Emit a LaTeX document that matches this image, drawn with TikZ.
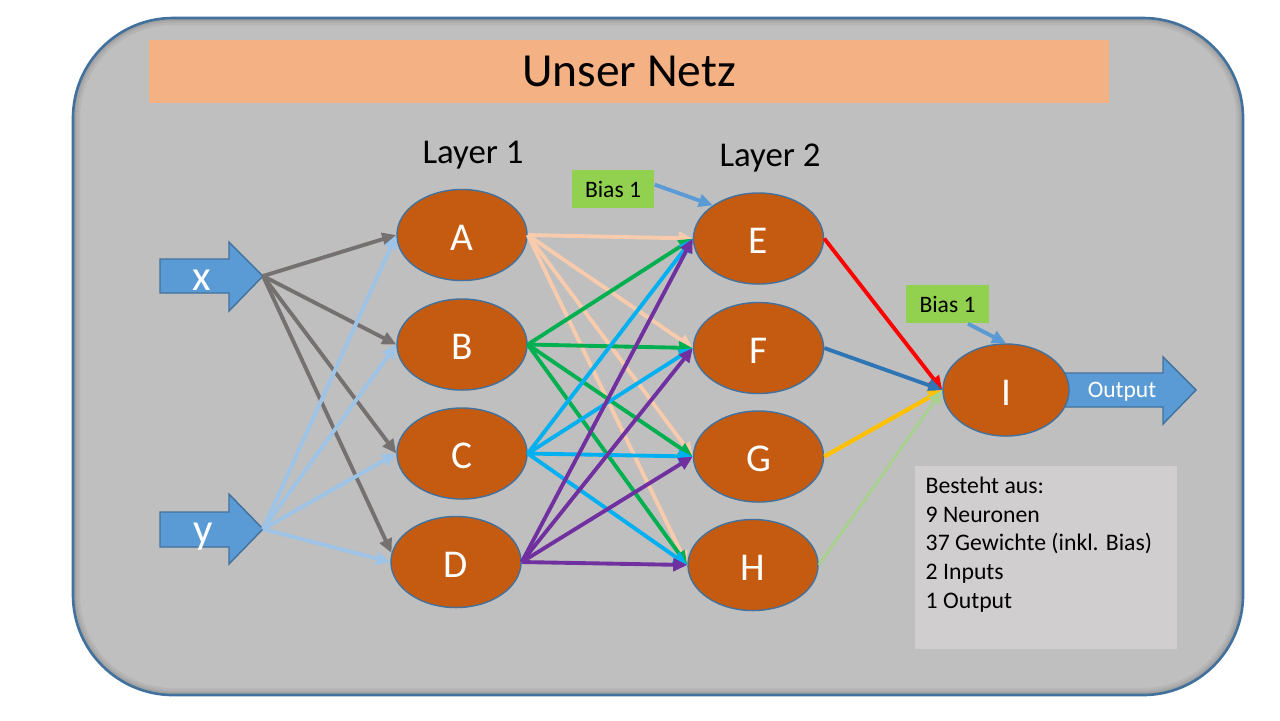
\documentclass[tikz,border=0pt]{standalone}
\usepackage{fontspec}
\setmainfont{Carlito}
\usetikzlibrary{arrows.meta,shapes.geometric}
\definecolor{panelfill}{HTML}{BFBFBF}
\definecolor{panelline}{HTML}{41719C}
\definecolor{titlefill}{HTML}{F4B183}
\definecolor{neuronfill}{HTML}{C55A11}
\definecolor{inarrow}{HTML}{5B9BD5}
\definecolor{cgray}{HTML}{767171}
\definecolor{clblue}{HTML}{9DC3E6}
\definecolor{cpeach}{HTML}{F8CBAD}
\definecolor{cgreen}{HTML}{00B050}
\definecolor{ccyan}{HTML}{00B0F0}
\definecolor{cpurple}{HTML}{7030A0}
\definecolor{cred}{HTML}{FF0000}
\definecolor{cblue}{HTML}{2E75B6}
\definecolor{cyellow}{HTML}{FFC000}
\definecolor{clgreen}{HTML}{A9D18E}
\definecolor{biasfill}{HTML}{92D050}
\definecolor{infofill}{HTML}{D0CECE}
\begin{document}
\begin{tikzpicture}[x=0.01cm,y=-0.01cm,
  neuron/.style={ellipse, fill=neuronfill, draw=panelline, line width=0.4pt,
    minimum width=1.3cm, minimum height=0.91cm, inner sep=0pt, text=white,
    text height=0.3cm, text depth=0pt,
    font=\fontsize{11.2}{13}\selectfont},
  wire/.style={line width=1.1pt, -{Triangle[length=4pt,width=3.6pt]}},
  biasbox/.style={rectangle, fill=biasfill, minimum width=0.82cm, minimum height=0.38cm,
    inner sep=0pt, font=\fontsize{6.7}{8}\selectfont},
  layerlabel/.style={font=\fontsize{9.9}{12}\selectfont, inner sep=0pt},
  arrowshape/.style={fill=inarrow, draw=panelline, line width=0.4pt},
  inlabel/.style={text=white, font=\fontsize{12.2}{14}\selectfont, inner sep=0pt, anchor=base}
]
\useasboundingbox (0,0) rectangle (1280,720);
\fill[white] (0,0) rectangle (1280,720);
% panel
\fill[panelfill, rounded corners=1cm] (73,18) rectangle (1243,695);
\begin{scope}
  \clip[rounded corners=1cm] (73,18) rectangle (1243,695);
  \foreach \w in {4pt,2.6pt,1.6pt}
    \draw[black, opacity=0.05, line width=\w, rounded corners=1cm] (73,18) rectangle (1243,695);
\end{scope}
\draw[draw=panelline, line width=0.75pt, rounded corners=1cm] (73,18) rectangle (1243,695);
% title
\node (title) [rectangle, fill=titlefill, minimum width=9.6cm, minimum height=0.63cm, inner sep=0pt,
  font=\fontsize{13.5}{16}\selectfont] at (629,71.5) {Unser Netz};
% layer labels
\node (L1) [layerlabel] at (473,155) {Layer 1};
\node (L2) [layerlabel] at (770,158) {Layer 2};
% input arrows
\draw[arrowshape] (160,259) -- (229,259) -- (229,242) -- (263,276) -- (229,311) -- (229,293) -- (160,293) -- cycle;
\coordinate (xt) at (263,276);
\node (xl) [inlabel] at (202,290) {x};
\draw[arrowshape] (160,512) -- (229,512) -- (229,494) -- (263,529) -- (229,564) -- (229,547) -- (160,547) -- cycle;
\coordinate (yt) at (263,529);
\node (yl) [inlabel] at (203,543) {y};
% output arrow
\draw[arrowshape] (1040,373) -- (1163,373) -- (1163,357) -- (1196,390) -- (1163,424) -- (1163,407) -- (1040,407) -- cycle;
% neurons
\node[neuron] (A) at (462,235) {A};
\node[neuron] (B) at (462,344.5) {B};
\node[neuron] (C) at (462,453.5) {C};
\node[neuron] (D) at (456,562) {D};
\node[neuron] (E) at (758.5,238.5) {E};
\node[neuron] (F) at (758.5,348) {F};
\node[neuron] (G) at (758.5,456.5) {G};
\node[neuron] (H) at (753,565) {H};
\node[neuron, minimum width=1.26cm, minimum height=0.92cm] (I) at (1006,390) {I};
\node (out) [text=white, font=\fontsize{6.7}{8}\selectfont, inner sep=0pt] at (1122,392) {Output};
% input edges
\foreach \n/\a in {A/west,B/west,C/west,D/172}
  \draw[wire, cgray] (xt) -- (\n.\a);
\foreach \n in {A,B,C,D}
  \draw[wire, clblue] (yt) -- (\n.west);
% layer 1 -> layer 2
\foreach \s/\c in {A/cpeach,B/cgreen,C/ccyan,D/cpurple}
  \foreach \t in {E,F,G,H}
    \draw[wire, \c] (\s.east) -- (\t.west);
% layer 2 -> output
\draw[wire, cred] (E.east) -- (I.west);
\draw[wire, cblue] (F.east) -- (I.west);
\draw[wire, cyellow, line width=1.2pt] (G.east) -- (I.west);
\draw[wire, clgreen, line width=0.8pt] (H.east) -- (I.west);
% bias
\node[biasbox] (b1) at (613,189) {Bias 1};
\node[biasbox] (b2) at (947.5,304) {Bias 1};
\draw[wire, inarrow] (b1.6) -- (E.144);
\draw[wire, inarrow] (b2.-44) -- (I.north);
% info box
\node (info) [rectangle, fill=infofill, anchor=north west, minimum width=2.62cm, minimum height=1.83cm, inner sep=0pt] at (914,465) {};
\node (infotext) [anchor=north west, align=left, inner sep=0pt, font=\fontsize{6.75}{8.2}\selectfont] at (925,476)
  {Besteht aus:\\9 Neuronen\\37 Gewichte (inkl. Bias)\\2 Inputs\\1 Output};
\end{tikzpicture}
\end{document}
